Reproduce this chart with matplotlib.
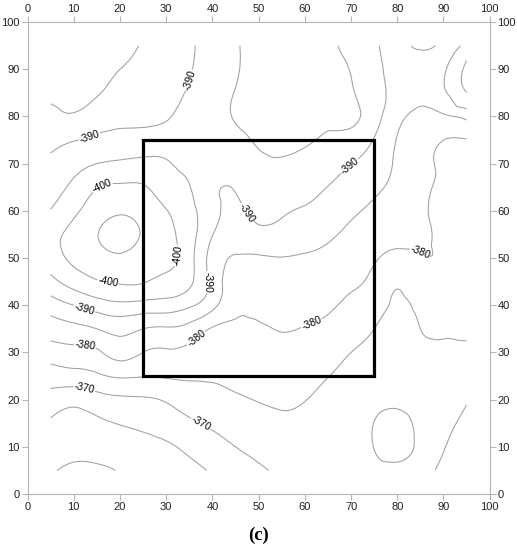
import numpy as np
import matplotlib
matplotlib.use("Agg")
import matplotlib.pyplot as plt
import matplotlib.tri as mtri
from matplotlib.patches import Rectangle

plt.rcParams['font.family'] = ['Liberation Sans', 'DejaVu Sans']
plt.rcParams['axes.unicode_minus'] = False

# sample grid (data coords)
x_nodes = [5, 10, 15, 20, 25, 30, 35, 40, 45, 50, 55, 60, 65, 70, 75, 80, 85, 90, 95]
y_nodes = [5, 10, 15, 20, 25, 30, 35, 40, 45, 50, 55, 60, 65, 70, 75, 80, 85, 90, 95]

# field values, one row per y node (bottom to top), columns follow x_nodes
z_rows = [
    [-360.5, -359.2, -359.3, -360.3, -361.8, -362.3, -363.3, -365.5, -367.2, -369.4, -370.5, -371.2, -371.5, -371.5, -371.0, -371.5, -370.6, -369.5, -367.5],
    [-362.6, -361.4, -361.7, -362.6, -363.6, -364.3, -366.2, -368.2, -370.0, -371.3, -371.9, -372.5, -372.4, -371.8, -369.9, -368.0, -370.8, -370.2, -368.2],
    [-364.4, -363.2, -364.1, -365.2, -365.9, -367.2, -369.2, -370.8, -372.2, -373.2, -374.0, -374.0, -373.3, -372.6, -369.9, -368.0, -371.3, -371.2, -369.2],
    [-367.9, -366.5, -368.0, -369.1, -369.4, -370.5, -372.4, -373.4, -374.4, -375.2, -375.7, -375.1, -374.1, -373.4, -371.8, -371.2, -372.3, -372.3, -370.3],
    [-372.4, -373.1, -374.2, -375.6, -375.2, -375.5, -375.7, -375.7, -376.1, -376.6, -377.2, -376.7, -375.1, -374.2, -373.4, -372.3, -373.2, -373.3, -372.0],
    [-377.5, -378.3, -379.2, -381.9, -380.0, -379.5, -378.8, -377.7, -377.5, -378.0, -378.7, -378.2, -377.0, -375.0, -374.2, -373.2, -374.1, -374.4, -373.9],
    [-382.4, -383.6, -385.0, -386.6, -385.0, -384.4, -383.2, -379.6, -379.2, -379.5, -380.2, -379.8, -378.9, -377.0, -375.0, -373.8, -375.0, -375.5, -375.9],
    [-387.5, -390.0, -392.4, -393.8, -393.2, -392.8, -390.8, -386.5, -381.0, -381.1, -381.8, -381.4, -380.7, -379.0, -376.9, -374.4, -376.0, -377.0, -376.5],
    [-393.5, -397.2, -399.6, -400.5, -400.3, -398.6, -396.0, -388.3, -382.5, -382.8, -383.4, -383.0, -382.3, -380.8, -378.7, -375.6, -378.2, -378.5, -377.5],
    [-397.5, -401.0, -403.0, -404.2, -402.8, -401.5, -396.8, -388.0, -384.7, -384.6, -384.9, -384.6, -383.9, -382.4, -380.5, -378.8, -379.7, -379.5, -378.0],
    [-398.5, -401.5, -404.8, -407.0, -404.5, -401.5, -397.0, -390.2, -386.6, -388.3, -388.0, -386.9, -385.7, -384.0, -382.3, -381.2, -380.8, -379.0, -378.5],
    [-395.2, -399.0, -402.5, -404.3, -403.0, -400.2, -396.5, -391.6, -389.0, -391.5, -390.7, -389.5, -387.8, -385.8, -384.1, -382.8, -380.9, -378.6, -378.8],
    [-393.0, -396.2, -399.8, -400.7, -400.4, -397.8, -395.2, -391.0, -390.3, -392.4, -392.6, -391.6, -389.9, -388.0, -385.9, -384.0, -381.6, -378.8, -379.0],
    [-391.0, -393.1, -395.0, -395.8, -396.3, -395.5, -394.0, -393.8, -392.5, -393.9, -394.5, -393.6, -392.1, -390.1, -387.8, -384.3, -381.6, -379.3, -379.3],
    [-388.8, -389.8, -390.8, -391.5, -392.0, -392.3, -392.8, -394.0, -394.1, -395.5, -396.0, -395.6, -394.3, -393.2, -389.7, -384.8, -382.5, -380.0, -379.7],
    [-386.4, -385.5, -387.6, -388.8, -388.8, -389.6, -391.6, -393.4, -395.3, -396.5, -397.0, -396.8, -395.8, -396.0, -392.0, -386.5, -384.0, -384.6, -385.5],
    [-384.0, -383.8, -384.6, -386.9, -387.9, -388.8, -390.4, -392.7, -395.2, -397.0, -397.5, -397.3, -396.3, -395.5, -391.5, -388.8, -386.0, -385.4, -380.2],
    [-383.0, -383.0, -383.5, -385.0, -386.4, -388.0, -389.7, -392.1, -394.5, -397.0, -397.5, -397.3, -396.3, -394.8, -391.2, -388.8, -387.0, -385.5, -378.5],
    [-382.5, -382.0, -383.0, -384.0, -385.3, -387.3, -389.4, -391.9, -394.5, -396.8, -397.2, -397.0, -396.0, -393.5, -390.8, -388.5, -391.0, -388.5, -383.5],
]

plain_levels = [-405, -395, -385, -375, -365, -360]
label_levels = [-400, -390, -380, -370]
label_spots = [
    (35, 87.7), (13.5, 75.4), (69.2, 70.1), (46.6, 59.1), (38.4, 44.9), (12.4, 39.4),
    (16.3, 64.8), (31.3, 50.6), (17.4, 44.7),
    (12.4, 30.9), (37.8, 31.6), (61.8, 35.4), (84.5, 50.0),
    (12.4, 22.9), (37.3, 14.6),
]
study_area = (25, 25, 75, 75)  # x0, y0, x1, y1
ticks = [0, 10, 20, 30, 40, 50, 60, 70, 80, 90, 100]

# triangulate the regular grid and smooth it with the cubic refiner
xx, yy = np.meshgrid(x_nodes, y_nodes)
z = np.array(z_rows)
n = len(x_nodes)
tris = []
for j in range(len(y_nodes) - 1):
    for i in range(n - 1):
        a = j * n + i
        tris.append([a, a + 1, a + n + 1])
        tris.append([a, a + n + 1, a + n])
tri = mtri.Triangulation(xx.ravel(), yy.ravel(), tris)
refiner = mtri.UniformTriRefiner(tri)
tri_f, z_f = refiner.refine_field(z.ravel(), subdiv=3)

fig = plt.figure(figsize=(5.17, 5.5), dpi=100)
ax = fig.add_axes([0.0532, 0.1018, 0.894, 0.858])

line_color = '#a0a0a0'
ax.tricontour(tri_f, z_f, levels=plain_levels, colors=line_color,
              linewidths=0.75, linestyles='solid')
cs = ax.tricontour(tri_f, z_f, levels=label_levels, colors=line_color,
                   linewidths=0.75, linestyles='solid')
ax.clabel(cs, manual=label_spots, fmt='%d', fontsize=7.5, colors='k',
          inline=True, inline_spacing=2)

x0, y0, x1, y1 = study_area
ax.add_patch(Rectangle((x0, y0), x1 - x0, y1 - y0, fill=False,
                       edgecolor='black', linewidth=2.3, zorder=5))

ax.set_xlim(0, 100)
ax.set_ylim(0, 100)
ax.set_xticks(ticks)
ax.set_yticks(ticks)
ax.tick_params(top=True, right=True, labeltop=True, labelright=True,
               direction='out', length=4, width=0.8, color='#b5b5b5',
               labelsize=8, labelcolor='#222222', pad=1.5)
for sp in ax.spines.values():
    sp.set_color('#b5b5b5')
    sp.set_linewidth(0.8)

fig.text(0.5, 0.027, '(c)', ha='center', va='center', fontsize=13.5,
         fontweight='bold', family=['Liberation Serif', 'DejaVu Serif'])

fig.savefig('out.png', dpi=100)
